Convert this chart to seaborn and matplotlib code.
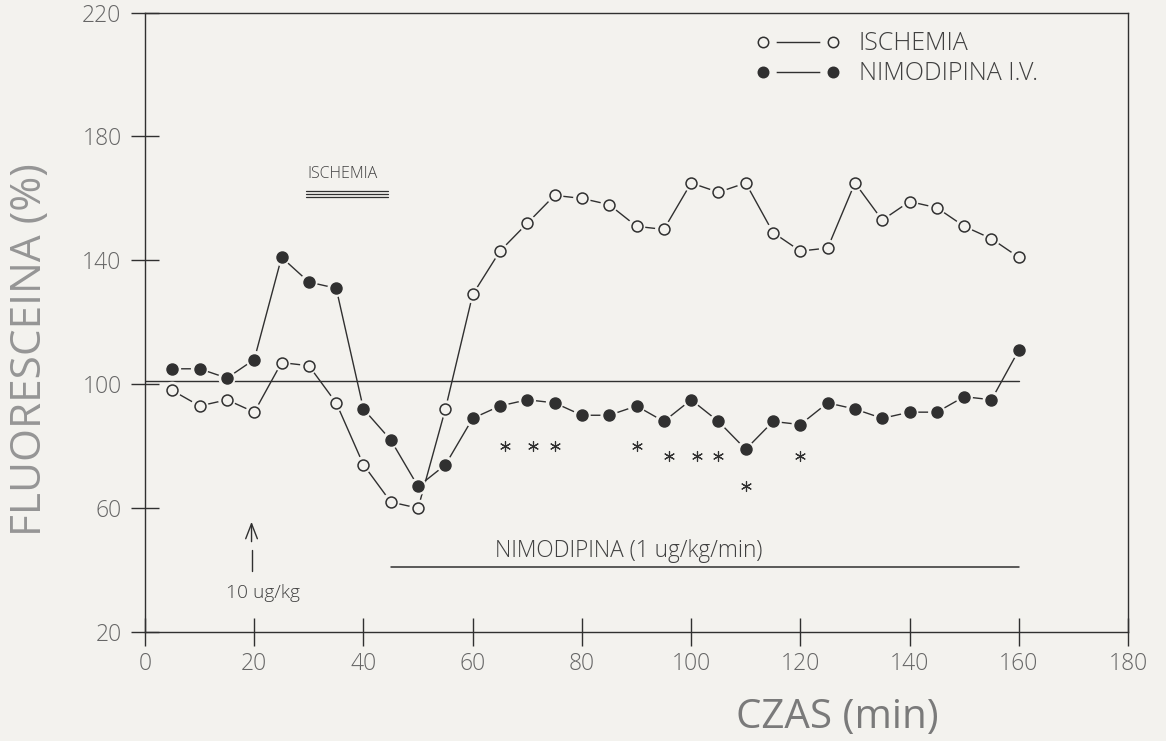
import matplotlib
matplotlib.use("Agg")
import matplotlib.pyplot as plt
import seaborn as sns
import pandas as pd
from matplotlib.lines import Line2D
from matplotlib.legend_handler import HandlerTuple

# Time points (min) and fluorescein level (% of baseline)
time_min = [5, 10, 15, 20, 25, 30, 35, 40, 45, 50, 55, 60, 65, 70, 75, 80,
            85, 90, 95, 100, 105, 110, 115, 120, 125, 130, 135, 140, 145,
            150, 155, 160]
ischemia = [98, 93, 95, 91, 107, 106, 94, 74, 62, 60, 92, 129, 143, 152,
            161, 160, 158, 151, 150, 165, 162, 165, 149, 143, 144, 165, 153,
            159, 157, 151, 147, 141]
nimodipina = [105, 105, 102, 108, 141, 133, 131, 92, 82, 67, 74, 89, 93,
              95, 94, 90, 90, 93, 88, 95, 88, 79, 88, 87, 94, 92, 89, 91,
              91, 96, 95, 111]

# Significance markers
star_time = [66, 71, 75, 90, 96, 101, 105, 110, 120]
star_level = [80, 80, 80, 80, 77, 77, 77, 67, 77]

x_ticks = [0, 20, 40, 60, 80, 100, 120, 140, 160, 180]
y_ticks = [20, 60, 100, 140, 180, 220]

series_names = ["ISCHEMIA", "NIMODIPINA I.V."]

PAPER = "#f3f2ee"
INK = "#303030"
GREY = "#666666"
TEXT = "#404040"

sns.set_theme(style="white")
plt.rcParams["font.family"] = ["Open Sans", "DejaVu Sans"]
plt.rcParams["font.weight"] = "light"

fig = plt.figure(figsize=(11.66, 7.41), dpi=100, facecolor=PAPER)
ax = fig.add_axes([0.1244, 0.147, 0.843, 0.836])
ax.set_facecolor(PAPER)

df = pd.DataFrame({
    "time": time_min * 2,
    "value": ischemia + nimodipina,
    "series": [series_names[0]] * len(time_min) + [series_names[1]] * len(time_min),
})

# baseline at 100 %
ax.plot([0, 160], [101, 101], color=INK, lw=1.0, zorder=1)

styles = {
    series_names[0]: dict(face=PAPER, edge=INK),
    series_names[1]: dict(face=INK, edge=INK),
}

for name in series_names:
    sub = df[df["series"] == name]
    sns.lineplot(data=sub, x="time", y="value", ax=ax, color=INK,
                 lw=1.0, zorder=2, legend=False)
    # halo that leaves a small gap between line and marker
    sns.scatterplot(data=sub, x="time", y="value", ax=ax, s=160,
                    color=PAPER, edgecolor="none", zorder=3, legend=False)
    sns.scatterplot(data=sub, x="time", y="value", ax=ax, s=62,
                    color=styles[name]["face"],
                    edgecolor=styles[name]["edge"], linewidth=1.1,
                    zorder=4, legend=False)

ax.scatter(star_time, star_level, marker=(6, 2, 0), s=52, color=INK,
           linewidths=0.85, zorder=4)

# ischemia period
for yy in (160.4, 161.4, 162.4):
    ax.plot([29.5, 44.5], [yy, yy], color=INK, lw=0.9, zorder=1)
ax.text(36.2, 168, "ISCHEMIA", ha="center", va="center", fontsize=11.5,
        color=TEXT)

# nimodipine infusion
ax.plot([45, 160], [41, 41], color=INK, lw=1.1, zorder=1)
ax.text(88.5, 46.3, "NIMODIPINA (1 ug/kg/min)", ha="center", va="center",
        fontsize=16.3, color=TEXT)

# bolus dose
ax.annotate("", xy=(19.5, 55.6), xytext=(19.5, 49.2),
            arrowprops=dict(arrowstyle="->,head_length=0.9,head_width=0.35",
                            color=INK, lw=1.0, shrinkA=0, shrinkB=0))
ax.plot([19.5, 19.5], [39.6, 46.4], color=INK, lw=1.0)
ax.text(21.5, 32.7, "10 ug/kg", ha="center", va="center", fontsize=13.8,
        color=TEXT)

ax.set_xlim(0, 180)
ax.set_ylim(20, 220)
ax.set_xticks(x_ticks)
ax.set_yticks(y_ticks)
ax.tick_params(axis="both", which="major", direction="inout", length=20,
               width=1.0, color=INK, labelsize=16.5, labelcolor=GREY,
               bottom=True, left=True, top=False, right=False)
ax.tick_params(axis="x", pad=4)
ax.tick_params(axis="y", pad=7)
for sp in ax.spines.values():
    sp.set_color(INK)
    sp.set_linewidth(1.0)
    sp.set_zorder(0.5)

ax.set_xlabel("CZAS (min)", fontsize=29, color="#7a7a7a")
ax.xaxis.set_label_coords(0.704, -0.106)
ax.set_ylabel("FLUORESCEINA (%)", fontsize=30.5, color="#959595")
ax.yaxis.set_label_coords(-0.096, 0.456)

# legend: marker — marker
h = []
for name in series_names:
    line = Line2D([], [], color=INK, lw=1.0)
    halo = Line2D([], [], ls="none", marker="o", markersize=19,
                  markerfacecolor=PAPER, markeredgecolor="none")
    mk = Line2D([], [], ls="none", marker="o", markersize=7.5,
                markerfacecolor=styles[name]["face"],
                markeredgecolor=styles[name]["edge"], markeredgewidth=1.1)
    h.append((line, halo, mk))
leg = ax.legend(h, series_names,
                handler_map={tuple: HandlerTuple(ndivide=1, pad=0)},
                numpoints=2, handlelength=3.4, frameon=False, fontsize=18,
                loc="upper left", bbox_to_anchor=(0.608, 0.99),
                labelspacing=0.2, handletextpad=0.75, borderpad=0)
for t in leg.get_texts():
    t.set_color(TEXT)

fig.savefig("out.png", dpi=100, facecolor=PAPER)
